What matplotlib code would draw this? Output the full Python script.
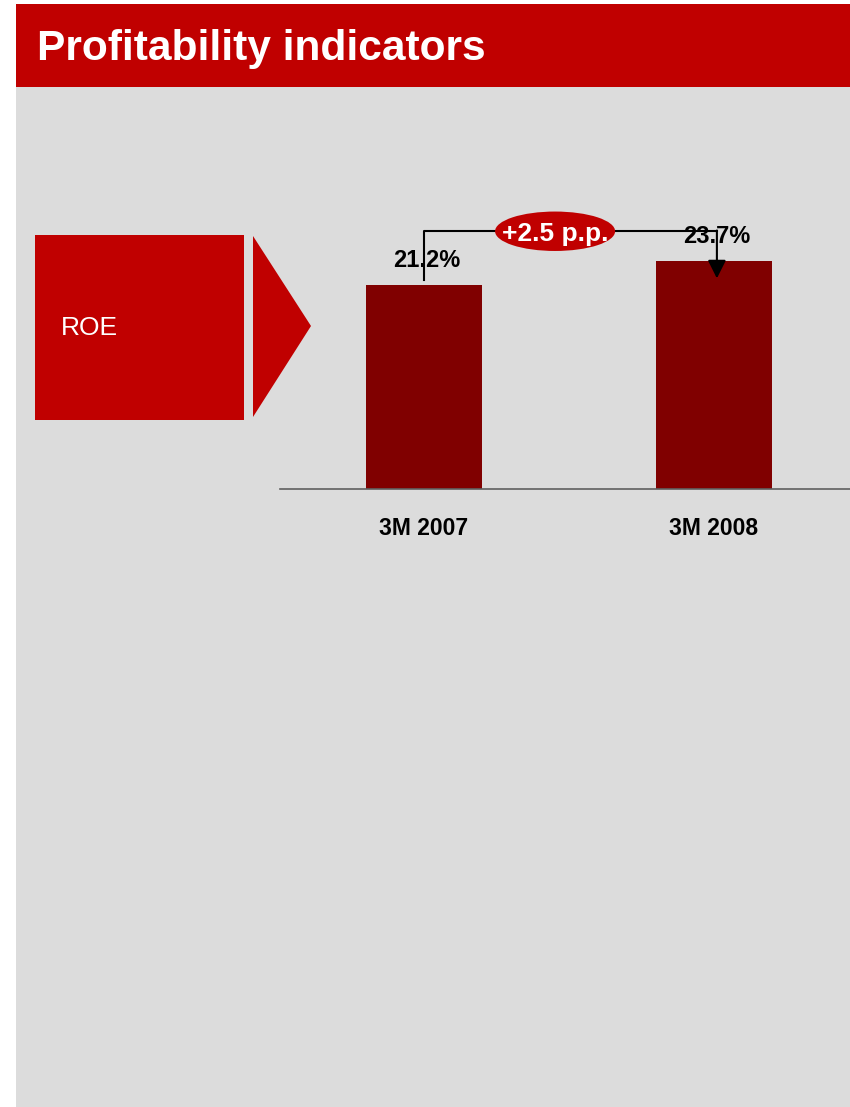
import matplotlib
matplotlib.use("Agg")
import matplotlib.pyplot as plt
from matplotlib.patches import Rectangle, Polygon, Ellipse

title = "Profitability indicators"
indicator = "ROE"
periods = ["3M 2007", "3M 2008"]
roe = [21.2, 23.7]

RED = "#C00000"
DARK = "#800000"
GRAY = "#DCDCDC"
narrow = ["Liberation Sans Narrow", "Liberation Sans", "DejaVu Sans"]
wide = ["Liberation Sans", "DejaVu Sans"]

W, H = 850, 1107
fig = plt.figure(figsize=(W / 100, H / 100), dpi=100)
fig.patch.set_facecolor("white")

def fx(px):
    return px / W

def fy(py):
    return 1 - py / H

# background panel and header
fig.patches.append(Rectangle((fx(16), 0), fx(834), fy(87), transform=fig.transFigure,
                             facecolor=GRAY, edgecolor="none", zorder=-10))
fig.patches.append(Rectangle((fx(16), fy(87)), fx(834), fy(4) - fy(87), transform=fig.transFigure,
                             facecolor=RED, edgecolor="none", zorder=-10))
fig.text(fx(37), fy(49), title, color="white", fontsize=30.6, fontweight="bold",
         family=wide, va="center", ha="left")

# ROE box with arrow
fig.patches.append(Rectangle((fx(35), fy(420)), fx(209), fy(235) - fy(420), transform=fig.transFigure,
                             facecolor=RED, edgecolor="none", zorder=-5))
fig.patches.append(Polygon([(fx(253), fy(236)), (fx(311), fy(326)), (fx(253), fy(417))],
                           closed=True, transform=fig.transFigure, facecolor=RED, edgecolor="none",
                           zorder=-5))
fig.text(fx(61), fy(328), indicator, color="white", fontsize=19, family=wide, va="center", ha="left")

# bar chart
ax = fig.add_axes([fx(280), fy(489), fx(570), fy(87) - fy(489)])
ax.set_facecolor("none")
x = range(len(periods))
ax.bar(x, roe, width=0.4, color=DARK)
ax.set_xlim(-0.4966, 1.469)
ax.set_ylim(0, 41.8)
for s in ["top", "right", "left"]:
    ax.spines[s].set_visible(False)
ax.spines["bottom"].set_color("#606060")
ax.spines["bottom"].set_linewidth(1.2)
ax.set_yticks([])
ax.set_xticks(list(x))
ax.set_xticklabels(periods, fontsize=16.5, fontweight="bold", family=narrow)
ax.tick_params(axis="x", length=0, pad=20)

for i, v in enumerate(roe):
    ax.text(i + 0.01, v + 2.6, f"{v:.1f}%", ha="center", va="center",
            fontsize=17, fontweight="bold", family=narrow, zorder=3)

# change bracket
delta = roe[1] - roe[0]
top = max(roe) + 3.1
ax.plot([0, 0, 1.01], [roe[0] + 0.5, top, top], color="black", lw=1.5, zorder=2)
ax.annotate("", xy=(1.01, roe[1] - 1.8), xytext=(1.01, top + 0.08),
            arrowprops=dict(arrowstyle="-|>,head_length=1.1,head_width=0.55", color="black",
                            lw=1.5, shrinkA=0, shrinkB=0),
            zorder=2)
ax.add_patch(Ellipse((0.452, top), 0.414, 4.1, facecolor=RED, edgecolor="none", zorder=4))
ax.text(0.452, top - 0.3, f"+{delta:.1f} p.p.", ha="center", va="center", color="white",
        fontsize=19, fontweight="bold", family=wide, zorder=5)

fig.savefig("out.png", dpi=100)
